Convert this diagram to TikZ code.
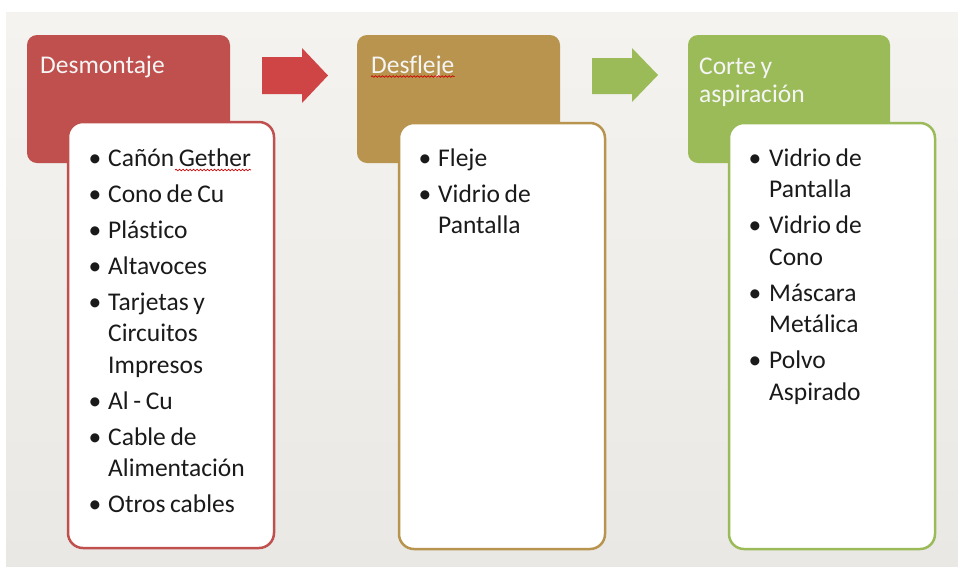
\documentclass[tikz,border=0pt]{standalone}
\usepackage{fontspec}
\setmainfont{Carlito}[Ligatures=NoCommon, WordSpace=0.8]
\usetikzlibrary{decorations.pathmorphing}
\definecolor{cred}{HTML}{C0504D}
\definecolor{credarrow}{HTML}{CF4444}
\definecolor{ctan}{HTML}{B8944E}
\definecolor{cgreen}{HTML}{9BBB59}
\definecolor{bgtop}{HTML}{F4F3F0}
\definecolor{bgbot}{HTML}{E9E8E5}
\definecolor{txt}{HTML}{1A1A1A}
\begin{document}
\begin{tikzpicture}[x=1pt,y=-1pt,
  hdr/.style={anchor=north west, inner sep=0pt, outer sep=0pt, rounded corners=10pt,
              minimum width=203pt, minimum height=128pt},
  lst/.style={anchor=north west, inner sep=0pt, outer sep=0pt, rounded corners=15pt,
              minimum width=206pt, minimum height=426pt, fill=white, line width=2.5pt},
  htxt/.style={anchor=base west, inner sep=0pt, text=white!96!black,
               font=\fontsize{25.5}{30}\selectfont},
  itm/.style={anchor=base west, inner sep=0pt, text=txt,
              font=\fontsize{25.5}{30}\selectfont},
  bul/.style={anchor=base, inner sep=0pt, text=txt,
              font=\fontsize{25.5}{30}\selectfont},
  wavy/.style={draw=red!80!black, line width=0.7pt,
               decorate, decoration={snake, segment length=3.5pt, amplitude=0.8pt}}
]
\useasboundingbox (0,0) rectangle (958,566);
% background
\fill[white] (0,0) rectangle (958,566);
\shade[top color=bgtop, bottom color=bgbot] (6,12) rectangle (958,566);

% header boxes
\node[hdr, fill=cred]   (h1) at (27,35) {};
\node[hdr, fill=ctan]   (h2) at (357,35) {};
\node[hdr, fill=cgreen, minimum width=202pt] (h3) at (688,35) {};

% block arrows
\coordinate (a1) at (262,57);
\fill[credarrow] (a1) -- ++(40,0) -- ++(0,-9) -- ++(26,27.5) -- ++(-26,27.5) -- ++(0,-9) -- ++(-40,0) -- cycle;
\coordinate (a2) at (592,58);
\fill[cgreen] (a2) -- ++(40,0) -- ++(0,-10) -- ++(26,27) -- ++(-26,27) -- ++(0,-8) -- ++(-40,0) -- cycle;

% header texts
\node[htxt] (t1) at (40,73) {Desmontaje};
\node[htxt] (t2) at (371,73) {Desfleje};
\node[htxt] (t3a) at (699,74) {Corte y};
\node[htxt] (t3b) at (699,102) {aspiración};
\draw[wavy] ([yshift=-3.5pt]t2.base west) -- ([yshift=-3.5pt]t2.base east);

% list boxes
\node[lst, draw=cred]   (l1) at (68,122) {};
\node[lst, draw=ctan]   (l2) at (399,123) {};
\node[lst, draw=cgreen] (l3) at (729,123) {};

% list 1
\node[bul] (r1b) at (95,166) {•};   \node[itm] (r1) at (108,166) {Cañón Gether};
\node[bul] (r2b) at (95,202) {•};   \node[itm] (r2) at (108,202) {Cono de Cu};
\node[bul] (r3b) at (95,238) {•};   \node[itm] (r3) at (108,238) {Plástico};
\node[bul] (r4b) at (95,274) {•};   \node[itm] (r4) at (108,274) {Altavoces};
\node[bul] (r5b) at (95,310) {•};   \node[itm] (r5) at (108,310) {Tarjetas y};
                                    \node[itm] (r5c) at (108,341.5) {Circuitos};
                                    \node[itm] (r5d) at (108,373) {Impresos};
\node[bul] (r6b) at (95,409) {•};   \node[itm] (r6) at (108,409) {Al - Cu};
\node[bul] (r7b) at (95,445) {•};   \node[itm] (r7) at (108,445) {Cable de};
                                    \node[itm] (r7c) at (108,476.5) {Alimentación};
\node[bul] (r8b) at (95,512.5) {•}; \node[itm] (r8) at (108,512.5) {Otros cables};
\draw[wavy] ([xshift=67pt,yshift=-4pt]r1.base west) -- ([yshift=-4pt]r1.base east);

% list 2
\node[bul] (s1b) at (425,166) {•};  \node[itm] (s1) at (438,166) {Fleje};
\node[bul] (s2b) at (425,202) {•};  \node[itm] (s2) at (438,202) {Vidrio de};
                                    \node[itm] (s2c) at (438,233.5) {Pantalla};

% list 3
\node[bul] (g1b) at (755,166) {•};  \node[itm] (g1) at (769,166) {Vidrio de};
                                    \node[itm] (g1c) at (769,197.5) {Pantalla};
\node[bul] (g2b) at (755,233.5) {•};\node[itm] (g2) at (769,233.5) {Vidrio de};
                                    \node[itm] (g2c) at (769,265) {Cono};
\node[bul] (g3b) at (755,301) {•};  \node[itm] (g3) at (769,301) {Máscara};
                                    \node[itm] (g3c) at (769,332.5) {Metálica};
\node[bul] (g4b) at (755,368.5) {•};\node[itm] (g4) at (769,368.5) {Polvo};
                                    \node[itm] (g4c) at (769,400) {Aspirado};
\end{tikzpicture}
\end{document}
